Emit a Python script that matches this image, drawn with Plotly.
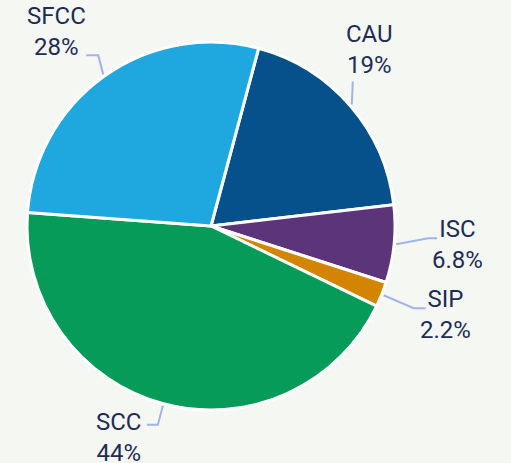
import math
import plotly.graph_objects as go

# ── Data ───────────────────────────────────────────────────────────────────────

LABELS = ["CAU", "ISC", "SIP", "SCC", "SFCC"]
VALUES = [19.0, 6.8, 2.2, 44.0, 28.0]
COLORS = ["#06508c", "#5b3479", "#d38400", "#069b59", "#1fa8e0"]

# ── Layout config ──────────────────────────────────────────────────────────────

W, H = 511, 463
CX, CY, R = 211, 226, 184          # pie centre / radius in pixels
ROTATION = 15                       # first slice starts 15° clockwise of 12 o'clock

BG = "#f5f7f3"
TEXT = "#1e2d55"
LINE = "#a0b4ea"
FONT = "Roboto"

# leader line: elbow offset from slice edge, horizontal tail, label offset from tail end
LEADERS = {
    "CAU":  dict(elbow=(1, -23),  tail=0,   label=(-8, -32), xanchor="left"),
    "ISC":  dict(elbow=(32, -6),  tail=9,   label=(-6, 6),   xanchor="left"),
    "SIP":  dict(elbow=(30, 13),  tail=12,  label=(-7, 6),   xanchor="left"),
    "SCC":  dict(elbow=(-5, 19),  tail=-11, label=(-4, 13),  xanchor="right"),
    "SFCC": dict(elbow=(-5, -19), tail=-12, label=(1, -24),  xanchor="right"),
}


def px_to_paper(x, y):
    return x / W, 1 - y / H


fig = go.Figure(go.Pie(
    labels=LABELS,
    values=VALUES,
    sort=False,
    direction="clockwise",
    rotation=ROTATION,
    marker=dict(colors=COLORS, line=dict(color="white", width=3)),
    textinfo="none",
    hoverinfo="label+percent",
    domain=dict(x=[(CX - R) / W, (CX + R) / W], y=[1 - (CY + R) / H, 1 - (CY - R) / H]),
    showlegend=False,
))

total = sum(VALUES)
start = ROTATION
for lab, val in zip(LABELS, VALUES):
    mid = math.radians(start + val / total * 360 / 2)
    start += val / total * 360
    sx = CX + (R + 2) * math.sin(mid)
    sy = CY - (R + 2) * math.cos(mid)
    cfg = LEADERS[lab]
    ex, ey = sx + cfg["elbow"][0], sy + cfg["elbow"][1]
    tx, ty = ex + cfg["tail"], ey
    pts = [px_to_paper(*p) for p in [(sx, sy), (ex, ey), (tx, ty)]]
    path = "M {:.4f},{:.4f} L {:.4f},{:.4f} L {:.4f},{:.4f}".format(*[c for p in pts for c in p])
    fig.add_shape(type="path", path=path, xref="paper", yref="paper",
                  line=dict(color=LINE, width=2))
    pct = val / total * 100
    pct_txt = f"{pct:.2g}%"
    ax, ay = px_to_paper(tx + cfg["label"][0], ty + cfg["label"][1])
    fig.add_annotation(
        x=ax, y=ay, xref="paper", yref="paper",
        text=f"{lab}<br>{pct_txt}", showarrow=False,
        xanchor=cfg["xanchor"], yanchor="middle", align="center",
        borderpad=0, font=dict(size=24, color=TEXT, family=FONT),
    )

fig.update_layout(
    width=W, height=H,
    paper_bgcolor=BG, plot_bgcolor=BG,
    margin=dict(l=0, r=0, t=0, b=0),
    font=dict(family=FONT, color=TEXT),
)
# drop the browser's default 8px body margin so the figure fills the window
fig.write_html(
    "out.html",
    config={"displayModeBar": False},
    post_script="document.body.style.margin='0';document.body.style.overflow='hidden';",
)
